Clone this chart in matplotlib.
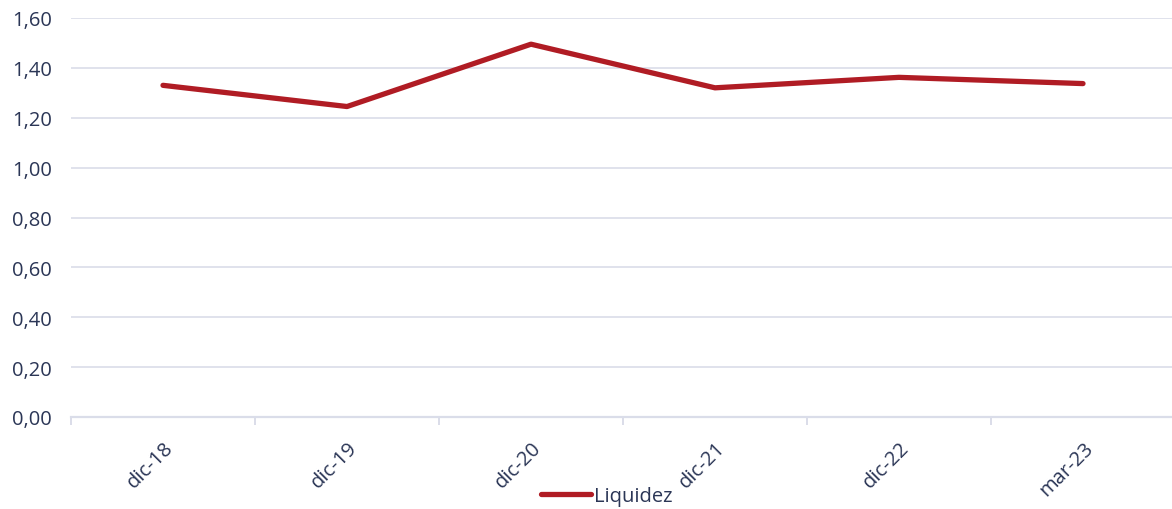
import matplotlib
matplotlib.use("Agg")
import matplotlib.pyplot as plt
from matplotlib.ticker import FixedLocator, FuncFormatter

categories = ["dic-18", "dic-19", "dic-20", "dic-21", "dic-22", "mar-23"]
liquidez = [1.33, 1.245, 1.495, 1.32, 1.362, 1.337]
yticks = [0.0, 0.2, 0.4, 0.6, 0.8, 1.0, 1.2, 1.4, 1.6]

TEXT = "#2b3656"
GRID = "#dadde9"
LINE = "#b01c24"

plt.rcParams['font.family'] = ['Open Sans', 'DejaVu Sans']

W, H = 1172, 510
fig = plt.figure(figsize=(W / 100, H / 100), dpi=100)
x0, x1 = 71, 1175
y0, y1 = 418, 19
ax = fig.add_axes([x0 / W, (H - y0) / H, (x1 - x0) / W, (y0 - y1) / H])

xs = list(range(len(categories)))
ax.plot(xs, liquidez, color=LINE, lw=3.8, solid_capstyle='round',
        solid_joinstyle='round', label="Liquidez", zorder=3)

ax.set_xlim(-0.5, len(categories) - 0.5)
ax.set_ylim(0, 1.6)
ax.set_yticks(yticks)
ax.yaxis.set_major_formatter(FuncFormatter(lambda v, p: f"{v:.2f}".replace(".", ",")))
ax.grid(axis='y', color=GRID, lw=1.2, zorder=0)
for s in ax.spines.values():
    s.set_visible(False)
ax.axhline(0, color=GRID, lw=1.6, zorder=1, clip_on=False)

FS = 14.5
ax.set_xticks(xs)
ax.set_xticklabels(categories, rotation=45, ha='right', rotation_mode='anchor')
ax.xaxis.set_minor_locator(FixedLocator([i - 0.5 for i in range(len(categories))]))
ax.tick_params(axis='x', which='major', length=0, pad=15, labelsize=FS, labelcolor=TEXT)
ax.tick_params(axis='x', which='minor', length=6, width=1.4, color=GRID)
ax.tick_params(axis='y', length=0, pad=14, labelsize=FS, labelcolor=TEXT)

leg = fig.legend(loc='center', bbox_to_anchor=(607 / W, (H - 497) / H), frameon=False,
                 handlelength=2.5, handletextpad=0.15, fontsize=FS)
for t in leg.get_texts():
    t.set_color(TEXT)

fig.savefig("out.png", dpi=100)
